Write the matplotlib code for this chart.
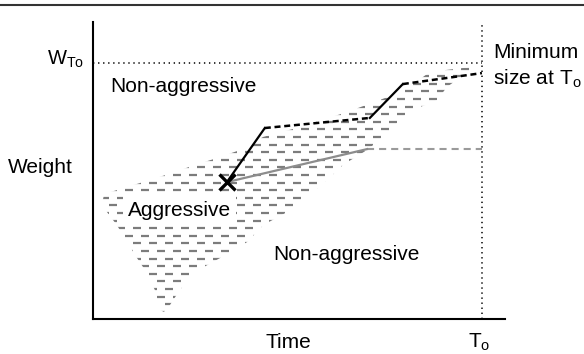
import numpy as np
import matplotlib.pyplot as plt
from matplotlib.patches import Polygon

plt.rcParams['font.family'] = ['Liberation Sans', 'DejaVu Sans']
plt.rcParams['mathtext.fontset'] = 'custom'
plt.rcParams['mathtext.rm'] = 'Liberation Sans'
plt.rcParams['mathtext.it'] = 'Liberation Sans:italic'

# axis values (time and weight in arbitrary units, 0..100)
t_o = 94.4
w_to = 86.2

# switch point (X) and the two growth trajectories
switch_t, switch_w = 32.5, 46.1
path_t = [32.5, 41.7, 67.2, 75.2, 94.4]
path_w = [46.1, 64.3, 67.7, 79.1, 82.8]
path_ls = ['-', '--', '-', '--']
gray_t = [32.5, 66.5]
gray_w = [46.1, 57.2]
gray_level_w = 57.2

# outline of the "aggressive" zone (hatched area)
zone_t = [91.5, 85.9, 83.5, 76.5, 72.8, 68.9, 66.5, 60.7, 56.8, 52.7, 49.8,
          47.1, 41.3, 37.4, 30.8, 24.3, 21.1, 18.2, 17.2, 16.3, 15.0, 13.1,
          10.7, 8.3, 5.8, 3.4, 2.4, 2.7, 13.8, 19.2, 24.8, 30.1, 35.7, 41.3,
          50.2, 61.7, 72.8, 77.7, 81.8, 91.5]
zone_w = [83.8, 78.1, 73.7, 69.7, 64.6, 59.6, 56.9, 51.9, 46.8, 41.8, 39.1,
          36.0, 31.6, 25.9, 20.5, 15.5, 9.8, 3.7, 2.4, 3.0, 9.8, 15.5,
          20.5, 25.9, 31.6, 36.0, 40.1, 42.1, 46.8, 49.2, 51.9, 54.2, 56.9, 61.3,
          64.6, 69.7, 75.4, 79.1, 83.2, 84.8]

fig = plt.figure(figsize=(5.84, 3.54), dpi=100)
ax = fig.add_axes([93 / 584, 35 / 354, 412 / 584, 297 / 354])
ax.set_xlim(0, 100)
ax.set_ylim(0, 100)
ax.set_xticks([])
ax.set_yticks([])
for s in ['top', 'right']:
    ax.spines[s].set_visible(False)
for s in ['left', 'bottom']:
    ax.spines[s].set_linewidth(1.5)
    ax.spines[s].set_color('black')

# hatched zone drawn as rows of short dashes clipped to the outline
zone = Polygon(np.column_stack([zone_t, zone_w]), closed=True,
               facecolor='none', edgecolor='none')
ax.add_patch(zone)
rows = np.arange(2.4, 86, 2.56)
for i, y in enumerate(rows):
    ln, = ax.plot([0, 100], [y, y], color='#7c7c7c', lw=1.6,
                  linestyle=(3.6 * (i % 2), (3.6, 3.6)), zorder=1)
    ln.set_clip_path(zone)

# reference lines
dots = (0, (0.9, 2.4))
ax.plot([0, t_o], [w_to, w_to], color='black', lw=1.1, linestyle=dots)
ax.plot([t_o, t_o], [0, 100], color='black', lw=1.1, linestyle=dots,
        clip_on=False)
ax.plot([gray_t[1], t_o], [gray_level_w, gray_level_w], color='#9a9a9a',
        lw=1.5, linestyle=(0, (3.4, 2.4)), zorder=2)

# trajectories
ax.plot(gray_t, gray_w, color='#8c8c8c', lw=1.6, zorder=3)
for k in range(len(path_ls)):
    if path_ls[k] == '-':
        ax.plot(path_t[k:k + 2], path_w[k:k + 2], color='black', lw=1.6,
                zorder=4)
    else:
        ax.plot(path_t[k:k + 2], path_w[k:k + 2], color='black', lw=1.8,
                linestyle=(0, (2.4, 1.5)), zorder=4)
ax.plot([switch_t], [switch_w], marker='x', color='black', ms=11, mew=2.4,
        zorder=5)

# labels inside the plot
ax.text(4.1, 76.4, 'Non-aggressive', fontsize=15, va='baseline')
ax.text(43.7, 19.9, 'Non-aggressive', fontsize=15, va='baseline')
ax.text(8.5, 34.7, 'Aggressive', fontsize=15, va='baseline', zorder=6,
        bbox=dict(boxstyle='square,pad=0.25', facecolor='white',
                  edgecolor='none'))

# labels outside the plot
fig.text(8 / 584, 1 - 173 / 354, 'Weight', fontsize=15, va='baseline')
fig.text(47 / 584, 1 - 65 / 354, r'$\mathrm{W}_{\mathrm{To}}$', fontsize=14.5,
         va='baseline')
fig.text(288 / 584, 1 - 348 / 354, 'Time', fontsize=15, ha='center',
         va='baseline')
fig.text(468 / 584, 1 - 348 / 354, r'$\mathrm{T}_{\mathrm{o}}$', fontsize=15,
         va='baseline')
fig.text(493 / 584, 1 - 58 / 354, 'Minimum', fontsize=15, va='baseline')
fig.text(493 / 584, 1 - 85 / 354, r'size at $\mathrm{T}_{\mathrm{o}}$',
         fontsize=15, va='baseline')

# rule across the top of the figure
fig.add_artist(plt.Line2D([0, 1], [1 - 4.5 / 354, 1 - 4.5 / 354],
                          color='#333333', lw=1.5))

fig.savefig('out.png', dpi=100)
